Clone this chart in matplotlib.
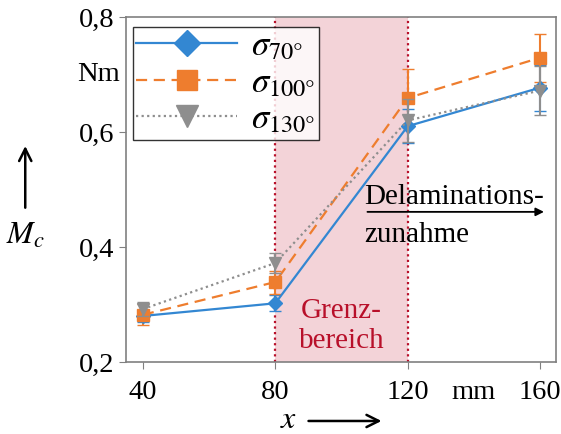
import numpy as np
import matplotlib
matplotlib.use('Agg')
import matplotlib.pyplot as plt
from matplotlib.lines import Line2D
from matplotlib.patches import FancyArrowPatch

plt.rcParams['font.family'] = ['Liberation Serif', 'DejaVu Serif']
plt.rcParams['mathtext.fontset'] = 'stix'

#%% data
x = [40, 80, 120, 160]
s70 = [0.280, 0.302, 0.610, 0.677]
s70_err = [0.010, 0.014, 0.030, 0.040]
s100 = [0.282, 0.339, 0.659, 0.729]
s100_err = [0.018, 0.020, 0.050, 0.042]
s130 = [0.292, 0.372, 0.620, 0.672]
s130_err = [0.012, 0.018, 0.038, 0.043]

xticks = [40, 80, 120, 160]
xticklabels = ['40', '80', '120', '160']
yticks = [0.2, 0.4, 0.6, 0.8]
yticklabels = ['0,2', '0,4', '0,6', '0,8']
labels = [r'$\sigma_{\mathit{70}°}$', r'$\sigma_{\mathit{100}°}$', r'$\sigma_{\mathit{130}°}$']

blue = '#3387D2'
orange = '#EE7D2E'
gray = '#8E8E8E'
red = '#B8102A'

#%% figure
fig = plt.figure(figsize=(5.61, 4.34), dpi=100)
ax = fig.add_axes([0.2246, 0.166, 0.7665, 0.795])

ax.axvspan(80, 120, color='#F3D3D8', lw=0, zorder=0)
ax.axvline(80, color=red, ls=(0, (1, 1.5)), lw=1.6, zorder=1)
ax.axvline(120, color=red, ls=(0, (1, 1.5)), lw=1.6, zorder=1)

ax.errorbar(x, s70, yerr=s70_err, color=blue, ls='-', lw=1.6, marker='D', ms=7,
            capsize=4, elinewidth=1.5, zorder=3)
ax.errorbar(x, s100, yerr=s100_err, color=orange, ls=(0, (5, 3)), lw=1.6, marker='s', ms=9,
            capsize=4, elinewidth=1.5, zorder=3)
ax.errorbar(x, s130, yerr=s130_err, color=gray, ls=(0, (1, 1.5)), lw=1.6, marker='v', ms=9,
            capsize=4, elinewidth=1.5, zorder=4)

ax.set_xlim(34.9, 164.8)
ax.set_ylim(0.2, 0.8)
ax.set_xticks(xticks)
ax.set_xticklabels(xticklabels)
ax.set_yticks(yticks)
ax.set_yticklabels(yticklabels)
ax.tick_params(labelsize=20.5, color='#808080', length=5, direction='out')
ax.tick_params(axis='x', pad=8)
for sp in ax.spines.values():
    sp.set_color('#808080')
    sp.set_linewidth(1.2)

# units
ax.text(140, -0.053, 'mm', transform=ax.get_xaxis_transform(), fontsize=20.5,
        ha='center', va='top', clip_on=False)
ax.text(-0.015, 0.7, 'Nm', transform=ax.get_yaxis_transform(), fontsize=20.5,
        ha='right', va='center', clip_on=False)

# axis labels with arrows
fig.text(0.045, 0.455, r'$M_c$', fontsize=23, ha='center', va='center')
fig.patches.append(FancyArrowPatch(
    (0.045, 0.515), (0.045, 0.67), transform=fig.transFigure, arrowstyle='->',
    mutation_scale=22, lw=1.8, color='black'))
fig.text(0.515, 0.03, r'$x$', fontsize=23, ha='center', va='center')
fig.patches.append(FancyArrowPatch(
    (0.545, 0.03), (0.685, 0.03), transform=fig.transFigure, arrowstyle='->',
    mutation_scale=22, lw=1.8, color='black'))

# annotations
ax.text(100, 0.263, 'Grenz-\nbereich', color=red, fontsize=21, ha='center', va='center',
        linespacing=1.2)
ax.text(107, 0.487, 'Delaminations-', fontsize=21, ha='left', va='center')
ax.text(107, 0.421, 'zunahme', fontsize=21, ha='left', va='center')
ax.annotate('', xy=(162, 0.461), xytext=(107, 0.461),
            arrowprops=dict(arrowstyle='-|>', color='black', lw=1.3, mutation_scale=12))

handles = [Line2D([], [], color=blue, ls='-', lw=1.6, marker='D', ms=13),
           Line2D([], [], color=orange, ls=(0, (5, 3)), lw=1.6, marker='s', ms=15),
           Line2D([], [], color=gray, ls=(0, (1, 1.5)), lw=1.6, marker='v', ms=16)]
leg = ax.legend(handles, labels, loc='upper left', bbox_to_anchor=(0.016, 0.971),
                borderaxespad=0, fontsize=25, frameon=True, fancybox=False,
                handlelength=2.9, labelspacing=0.1, borderpad=0.1, handletextpad=0.4)
leg.get_frame().set_edgecolor('black')
leg.get_frame().set_linewidth(1.0)

plt.savefig('out.png', dpi=100)
